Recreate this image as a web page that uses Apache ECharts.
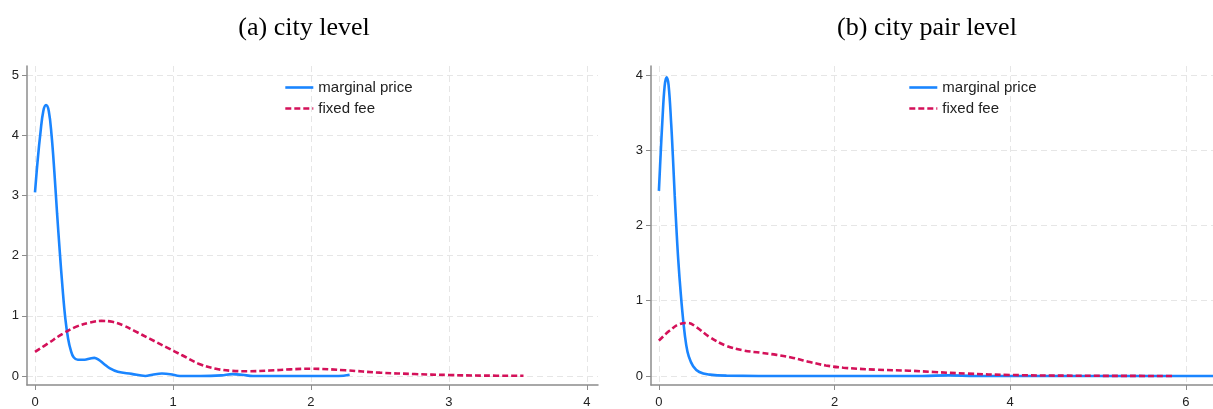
<!DOCTYPE html>
<html>
<head>
<meta charset="utf-8">
<script src="https://cdn.jsdelivr.net/npm/echarts@6/dist/echarts.min.js"></script>
<style>html,body{margin:0;padding:0;background:#fff}#c{width:1213px;height:409px}</style>
</head>
<body>
<div id="c"></div>
<script>
// Panel (a) city level
const aMarginalX = [0,0.02,0.04,0.06,0.08,0.1,0.12,0.14,0.16,0.18,0.2,0.22,0.24,0.26,0.28,0.31,0.36,0.4,0.43,0.46,0.5,0.54,0.6,0.7,0.8,0.85,0.92,0.98,1.05,1.2,1.35,1.43,1.5,1.58,2.2,2.28];
const aMarginalY = [3.05,3.6,4.05,4.4,4.5,4.4,4.0,3.4,2.7,2.05,1.45,0.95,0.62,0.42,0.31,0.27,0.27,0.29,0.3,0.27,0.2,0.13,0.07,0.035,0.0,0.02,0.04,0.03,0.0,0.0,0.01,0.03,0.02,0.0,0.0,0.02];
const aFixedX = [0,0.1,0.2,0.3,0.4,0.48,0.56,0.64,0.72,0.83,0.95,1.07,1.19,1.31,1.43,1.55,1.7,1.85,2.0,2.25,2.5,2.75,3.0,3.25,3.54];
const aFixedY = [0.40,0.55,0.70,0.82,0.89,0.915,0.9,0.84,0.75,0.62,0.48,0.34,0.2,0.12,0.085,0.078,0.09,0.11,0.12,0.094,0.055,0.032,0.016,0.006,0.004];
// Panel (b) city pair level
const bMarginalX = [0,0.02,0.04,0.065,0.087,0.11,0.14,0.16,0.18,0.2,0.22,0.25,0.28,0.31,0.34,0.39,0.46,0.58,0.77,1.5,3.0,3.3,3.6,6.31];
const bMarginalY = [2.46,2.95,3.4,3.85,3.97,3.87,3.35,2.9,2.4,1.95,1.55,1.08,0.7,0.42,0.26,0.13,0.053,0.018,0.004,0,0,0.008,0,0];
const bFixedX = [0,0.12,0.235,0.33,0.425,0.58,0.77,0.96,1.15,1.34,1.53,1.72,1.9,2.1,2.47,2.85,3.13,3.51,4.0,4.65,5.86];
const bFixedY = [0.47,0.6,0.69,0.705,0.65,0.516,0.4,0.34,0.31,0.28,0.24,0.185,0.14,0.11,0.084,0.07,0.053,0.031,0.013,0.004,0.0];

const titles = ['(a) city level', '(b) city pair level'];
const seriesNames = ['marginal price', 'fixed fee'];
const aXTicks = [0,1,2,3,4];
const aYTicks = [0,1,2,3,4,5];
const bXTicks = [0,2,4,6];
const bYTicks = [0,1,2,3,4];

const zip = (xs, ys) => xs.map((x, i) => [x, ys[i]]);
const BLUE = '#1A85FF', RED = '#D41159';
const axisLineColor = '#8c8c8c';
const gridColor = '#e6e6e6';
const sans = 'Liberation Sans, Arial, sans-serif';

function axisCfg(idx, min, max, ticks, margin) {
  return {
    type: 'value', gridIndex: idx, min: min, max: max,
    axisLine: {show: true, onZero: false, lineStyle: {color: axisLineColor, width: 1.5}},
    axisTick: {show: true, length: 5, customValues: ticks, lineStyle: {color: axisLineColor}},
    axisLabel: {customValues: ticks, color: '#222', fontSize: 13, fontFamily: sans, margin: margin},
    splitLine: {show: true, customValues: ticks, lineStyle: {color: gridColor, type: [6, 4], width: 1}}
  };
}
function lineSeries(name, idx, data, color, dashed) {
  return {
    name: name, type: 'line', xAxisIndex: idx, yAxisIndex: idx,
    data: data, smooth: 0.4, showSymbol: false, symbol: 'none',
    lineStyle: {color: color, width: 2.6, type: dashed ? [6, 3] : 'solid'},
    itemStyle: {color: color}, animation: false
  };
}
function legendCfg(left) {
  return {
    left: left, top: 75, orient: 'vertical', itemWidth: 28, itemHeight: 10, itemGap: 6,
    data: seriesNames,
    itemStyle: {color: 'rgba(0,0,0,0)', borderColor: 'rgba(0,0,0,0)', borderWidth: 0},
    lineStyle: {width: 2.6},
    textStyle: {color: '#222', fontSize: 15, fontFamily: sans},
    selectedMode: false
  };
}

const chart = echarts.init(document.getElementById('c'), null, {renderer: 'canvas'});
chart.setOption({
  animation: false,
  backgroundColor: '#fff',
  title: [
    {text: titles[0], left: 299, top: 10, textAlign: 'center', textStyle: {fontFamily: 'Liberation Serif, Times New Roman, serif', fontSize: 26, fontWeight: 'normal', color: '#000'}},
    {text: titles[1], left: 922, top: 10, textAlign: 'center', textStyle: {fontFamily: 'Liberation Serif, Times New Roman, serif', fontSize: 26, fontWeight: 'normal', color: '#000'}}
  ],
  legend: [legendCfg(279), legendCfg(903)],
  grid: [
    {left: 27, right: 615, top: 66, bottom: 23, containLabel: false},
    {left: 651, right: 0, top: 66, bottom: 23, containLabel: false}
  ],
  xAxis: [axisCfg(0, -0.058, 4.08, aXTicks, 11), axisCfg(1, -0.09, 6.31, bXTicks, 11)],
  yAxis: [axisCfg(0, -0.15, 5.15, aYTicks, 8), axisCfg(1, -0.12, 4.12, bYTicks, 8)],
  series: [
    lineSeries(seriesNames[0], 0, zip(aMarginalX, aMarginalY), BLUE, false),
    lineSeries(seriesNames[1], 0, zip(aFixedX, aFixedY), RED, true),
    lineSeries(seriesNames[0], 1, zip(bMarginalX, bMarginalY), BLUE, false),
    lineSeries(seriesNames[1], 1, zip(bFixedX, bFixedY), RED, true)
  ]
});
</script>
</body>
</html>
